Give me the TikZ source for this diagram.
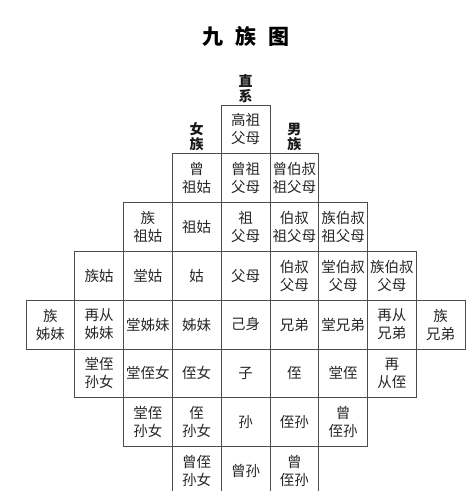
\documentclass[tikz,border=0pt]{standalone}
\usepackage{fontspec}
\usepackage{tikz}
\usetikzlibrary{positioning}
\newfontfamily\cjk{Noto Sans CJK SC}
\tikzset{%
	cell/.style    = {draw=black!70, line width=0.6pt, rectangle, minimum width=48.8pt, minimum height=48.8pt, inner sep=0pt, align=center, text=black!85, font=\cjk\fontsize{14.5}{18}\selectfont},
	side/.style    = {align=center, inner sep=0pt, text=black!90, font=\cjk\bfseries\fontsize{14}{15}\selectfont}, % Side labels
	heading/.style = {inner sep=0pt, text=black, font=\cjk\bfseries\fontsize{21}{24}\selectfont}, % Title
}
\begin{document}
\begin{tikzpicture}[node distance = 48.8pt]
	\useasboundingbox (0,0) rectangle (472pt,491pt);
	\clip (0,0) rectangle (472pt,491pt);
	\node[heading] (title) at (246pt,455pt) {九\hspace{0.55em}族\hspace{0.55em}图};
	% row of self
	\node[cell] (jishen) at (245.5pt,166.5pt) {己身};
	\node[cell,right of=jishen] (xiongdi) {兄弟};
	\node[cell,right of=xiongdi] (tangxd) {堂兄弟};
	\node[cell,right of=tangxd] (zaicongxd) {再从\\兄弟};
	\node[cell,right of=zaicongxd] (zuxd) {族\\兄弟};
	\node[cell,left of=jishen] (zimei) {姊妹};
	\node[cell,left of=zimei] (tangzm) {堂姊妹};
	\node[cell,left of=tangzm] (zaicongzm) {再从\\姊妹};
	\node[cell,left of=zaicongzm] (zuzm) {族\\姊妹};
	% parents
	\node[cell,above of=jishen] (fumu) {父母};
	\node[cell,right of=fumu] (bsfm) {伯叔\\父母};
	\node[cell,right of=bsfm] (tbsfm) {堂伯叔\\父母};
	\node[cell,right of=tbsfm] (zbsfm) {族伯叔\\父母};
	\node[cell,left of=fumu] (gu) {姑};
	\node[cell,left of=gu] (tanggu) {堂姑};
	\node[cell,left of=tanggu] (zugu) {族姑};
	% grandparents
	\node[cell,above of=fumu] (zufm) {祖\\父母};
	\node[cell,right of=zufm] (bszfm) {伯叔\\祖父母};
	\node[cell,right of=bszfm] (zbszfm) {族伯叔\\祖父母};
	\node[cell,left of=zufm] (zugu2) {祖姑};
	\node[cell,left of=zugu2] (zuzugu) {族\\祖姑};
	% great-grandparents
	\node[cell,above of=zufm] (zengzfm) {曾祖\\父母};
	\node[cell,right of=zengzfm] (zbsz) {曾伯叔\\祖父母};
	\node[cell,left of=zengzfm] (zengzugu) {曾\\祖姑};
	\node[cell,above of=zengzfm] (gaozfm) {高祖\\父母};
	% children
	\node[cell,below of=jishen] (zi) {子};
	\node[cell,right of=zi] (zhi) {侄};
	\node[cell,right of=zhi] (tangzhi) {堂侄};
	\node[cell,right of=tangzhi] (zczhi) {再\\从侄};
	\node[cell,left of=zi] (zhinv) {侄女};
	\node[cell,left of=zhinv] (tzhinv) {堂侄女};
	\node[cell,left of=tzhinv] (tzsn1) {堂侄\\孙女};
	% grandchildren
	\node[cell,below of=zi] (sun) {孙};
	\node[cell,right of=sun] (zhisun) {侄孙};
	\node[cell,right of=zhisun] (zengzs1) {曾\\侄孙};
	\node[cell,left of=sun] (zhisunnv) {侄\\孙女};
	\node[cell,left of=zhisunnv] (tzsn2) {堂侄\\孙女};
	% great-grandchildren
	\node[cell,below of=sun] (zengsun) {曾孙};
	\node[cell,right of=zengsun] (zengzs2) {曾\\侄孙};
	\node[cell,left of=zengsun] (zzsn) {曾侄\\孙女};
	% side labels
	\node[side,above of=gaozfm,node distance=41pt] (zhixi) {直\\系};
	\node[side,above of=zengzugu,node distance=41pt] (nvzu) {女\\族};
	\node[side,above of=zbsz,node distance=41pt] (nanzu) {男\\族};
\end{tikzpicture}
\end{document}
